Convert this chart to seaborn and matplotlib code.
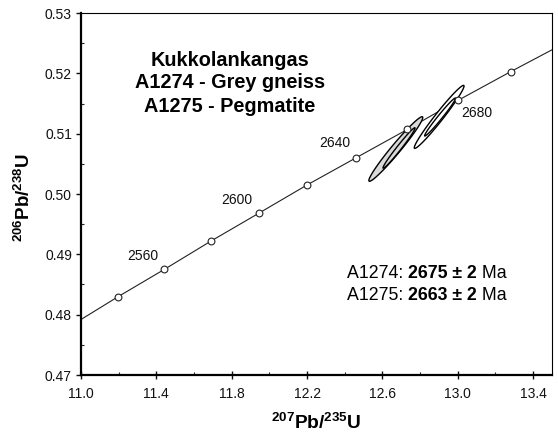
import numpy as np
import pandas as pd
import matplotlib
matplotlib.use("Agg")
import matplotlib.pyplot as plt
import seaborn as sns
from matplotlib.ticker import FixedLocator, MultipleLocator, FormatStrFormatter

# ---- data ----
# concordia curve (line) including its ends at the axes borders
conc_x = [11.0, 11.198, 11.442, 11.690, 11.943, 12.200, 12.460, 12.732, 13.000, 13.282, 13.5]
conc_y = [0.4792, 0.4830, 0.4875, 0.4922, 0.4968, 0.5015, 0.5060, 0.5107, 0.5155, 0.5203, 0.5239]
# age markers on concordia (Ma)
mark_age = [2540, 2560, 2580, 2600, 2620, 2640, 2660, 2680, 2700]
mark_x = [11.198, 11.442, 11.690, 11.943, 12.200, 12.460, 12.732, 13.000, 13.282]
mark_y = [0.4830, 0.4875, 0.4922, 0.4968, 0.5015, 0.5060, 0.5107, 0.5155, 0.5203]
label_ages = [2560, 2600, 2640, 2680]

# error ellipses: centre, half extents, correlation, fill
ell_cx = [12.671, 12.688, 12.901, 12.906]
ell_cy = [0.50746, 0.50763, 0.51278, 0.51276]
ell_sx = [0.143, 0.085, 0.132, 0.082]
ell_sy = [0.00535, 0.00335, 0.00522, 0.00315]
ell_rho = [0.975, 0.984, 0.978, 0.984]
ell_fill = ["#d9d9d9", "#d9d9d9", "white", "white"]

x_ticks = [11.0, 11.4, 11.8, 12.2, 12.6, 13.0, 13.4]
x_minor = [11.2, 11.6, 12.0, 12.4, 12.8, 13.2]
y_ticks = [0.47, 0.48, 0.49, 0.50, 0.51, 0.52, 0.53]

title_lines = ["Kukkolankangas", "A1274 - Grey gneiss", "A1275 - Pegmatite"]
age_samples = ["A1274: ", "A1275: "]
age_values = ["2675 ± 2", "2663 ± 2"]

# ---- style ----
sns.set_theme(style="white")
plt.rcParams["font.family"] = ["Liberation Sans", "DejaVu Sans"]
plt.rcParams["mathtext.fontset"] = "custom"
plt.rcParams["mathtext.rm"] = "Liberation Sans"
plt.rcParams["mathtext.bf"] = "Liberation Sans:bold"

W, H = 558, 436
fig = plt.figure(figsize=(W / 100, H / 100), dpi=100)
ax = fig.add_axes([81 / W, 1 - 375 / H, (552 - 81) / W, (375 - 13) / H])

def fx(px):
    return px / W

def fy(py):
    return 1 - py / H

# concordia line
sns.lineplot(x=conc_x, y=conc_y, ax=ax, color="#222222", lw=0.8, sort=False, zorder=2)

# ellipses
t = np.linspace(0, 2 * np.pi, 300)
for cx, cy, sx, sy, r, fc in zip(ell_cx, ell_cy, ell_sx, ell_sy, ell_rho, ell_fill):
    ex = cx + sx * np.cos(t)
    ey = cy + sy * (r * np.cos(t) + np.sqrt(1 - r * r) * np.sin(t))
    ax.fill(ex, ey, facecolor=fc, edgecolor="black", lw=1.0, zorder=3)

# age markers
sns.scatterplot(x=mark_x, y=mark_y, ax=ax, marker="o", s=24, facecolor="white",
                edgecolor="#222222", linewidth=0.8, zorder=4)

offsets = {2560: (-21, 13), 2600: (-22, 13), 2640: (-21, 15), 2680: (19, -13)}
for age in label_ages:
    i = mark_age.index(age)
    ax.annotate(str(age), (mark_x[i], mark_y[i]), xytext=offsets[age],
                textcoords="offset pixels", ha="center", va="center",
                fontsize=10, color="#111111", zorder=5)

ax.set_xlim(11.0, 13.5)
ax.set_ylim(0.47, 0.53)
ax.xaxis.set_major_locator(FixedLocator(x_ticks))
ax.xaxis.set_minor_locator(FixedLocator(x_minor))
ax.yaxis.set_major_locator(FixedLocator(y_ticks))
ax.yaxis.set_minor_locator(MultipleLocator(0.005))
ax.xaxis.set_major_formatter(FormatStrFormatter("%.1f"))
ax.yaxis.set_major_formatter(FormatStrFormatter("%.2f"))
ax.tick_params(axis="x", which="major", direction="inout", length=6, width=1.0,
               labelsize=10, pad=5.5, colors="#111111", bottom=True)
ax.tick_params(axis="x", which="minor", direction="in", length=2.2, width=0.8, bottom=True)
ax.tick_params(axis="y", which="major", direction="out", length=3.5, width=1.0,
               labelsize=10, pad=3, colors="#111111", left=True)
ax.tick_params(axis="y", which="minor", direction="in", length=2.2, width=0.8, left=True)
for s in ["left", "bottom"]:
    ax.spines[s].set_linewidth(1.6)
    ax.spines[s].set_color("black")
for s in ["top", "right"]:
    ax.spines[s].set_linewidth(0.8)
    ax.spines[s].set_color("black")
ax.set_xlabel("")
ax.set_ylabel("")

# axis titles
fig.text(fx(316), fy(423), r"$\mathbf{^{207}Pb/^{235}U}$", ha="center", va="center",
         fontsize=13.8, color="black")
fig.text(fx(24), fy(198), r"$\mathbf{^{206}Pb/^{238}U}$", ha="center", va="center",
         fontsize=13.5, color="black", rotation=90)

# title block
for line, py in zip(title_lines, [60, 83, 106]):
    fig.text(fx(230), fy(py), line, ha="center", va="center", fontsize=14.3,
             fontweight="bold", color="black")

# age block with mixed weights
renderer = fig.canvas.get_renderer()
for samp, val, py in zip(age_samples, age_values, [273, 295]):
    x0 = 347
    for part, wt in [(samp, "normal"), (val, "bold"), (" Ma", "normal")]:
        txt = fig.text(fx(x0), fy(py), part, ha="left", va="center", fontsize=12.8,
                       fontweight=wt, color="black")
        bb = txt.get_window_extent(renderer=renderer)
        x0 += bb.width

fig.savefig("out.png", dpi=100)
